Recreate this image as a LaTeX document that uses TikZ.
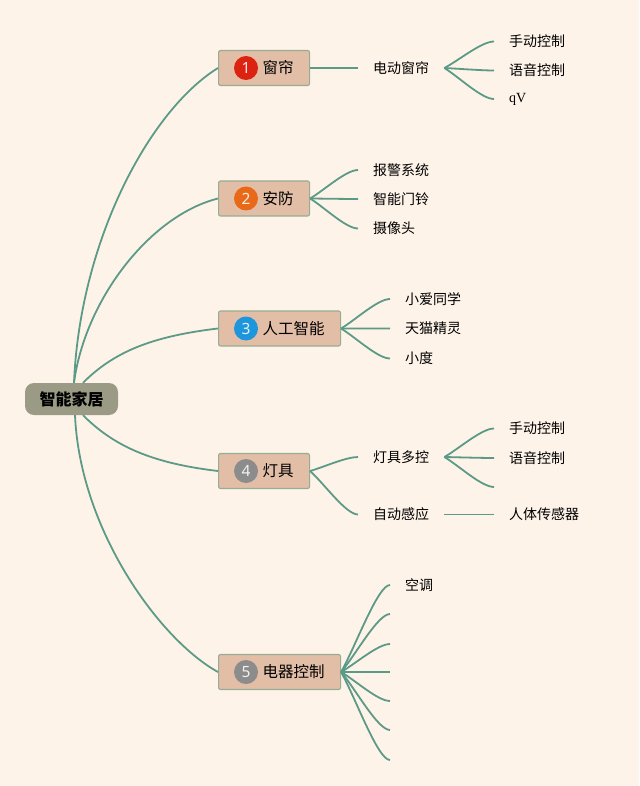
\documentclass[tikz,border=0pt]{standalone}
\usepackage{fontspec}
\setmainfont{Noto Sans CJK SC}
\newfontfamily\numfont{Noto Sans}
\newfontfamily\latinserif{Liberation Serif}
\usetikzlibrary{calc}

\definecolor{bgcream}{HTML}{FEF3E9}
\definecolor{rootfill}{HTML}{9B9A84}
\definecolor{boxfill}{HTML}{E2BEA6}
\definecolor{boxline}{HTML}{97AC94}
\definecolor{linegreen}{HTML}{5C9A88}
\definecolor{dotred}{HTML}{DC2211}
\definecolor{dotorange}{HTML}{E86A18}
\definecolor{dotblue}{HTML}{1E96DD}
\definecolor{dotgray}{HTML}{8C8C8C}

\tikzset{
    rootbox/.style={fill=rootfill, rounded corners=9pt, minimum width=93pt,
        minimum height=32pt, inner sep=0pt, font=\fontsize{16}{16}\selectfont\bfseries},
    mainbox/.style={draw=boxline, line width=1.1pt, fill=boxfill, rounded corners=2pt,
        minimum height=35pt, inner xsep=16pt, inner ysep=0pt, anchor=west,
        font=\fontsize{15.5}{16}\selectfont},
    numdot/.style={circle, fill=#1, minimum size=24pt, inner sep=0pt,
        text=white!88!#1, font=\numfont\fontsize{15.5}{15.5}\selectfont},
    leaf/.style={anchor=west, inner xsep=15pt, inner ysep=2pt,
        font=\fontsize{14}{14}\selectfont},
    branch/.style={draw=linegreen, line width=1.8pt},
    fanout/.style={to path={let \p1=(\tikztostart), \p2=(\tikztotarget) in
        .. controls ($(\p1)!0.3!(\p2)$) and ({0.25*\x1+0.75*\x2},\y2) .. (\tikztotarget)}},
}

% name, y, number, colour, label
\newcommand{\topicbox}[5]{
    \node[mainbox] (#1) at (218, #2) {\hspace{28pt}#5};
    \node[numdot=#4] (#1-num) at ([xshift=28pt]#1.west) {#3};
}

\begin{document}
\begin{tikzpicture}[x=1pt, y=-1pt]
    \fill[bgcream] (0,0) rectangle (639,786);
    \useasboundingbox (0,0) rectangle (639,786);

    \node[rootbox] (home) at (71.5,399) {智能家居};

    \topicbox{curtain}{68}{1}{dotred}{窗帘}
    \topicbox{security}{198.5}{2}{dotorange}{安防}
    \topicbox{ai}{328.5}{3}{dotblue}{人工智能}
    \topicbox{lamp}{471}{4}{dotgray}{灯具}
    \topicbox{appliance}{672}{5}{dotgray}{电器控制}

    \draw[branch] ([xshift=2.5pt]home.north) .. controls +(6,-143) and +(-68,42) .. (curtain.west);
    \draw[branch] ([xshift=2.5pt]home.north) .. controls +(11,-83) and +(-68,17) .. (security.west);
    \draw[branch] ([xshift=11.5pt]home.north) .. controls +(30,-30) and +(-68,8) .. (ai.west);
    \draw[branch] ([xshift=11.5pt]home.south) .. controls +(30,30) and +(-68,-8) .. (lamp.west);
    \draw[branch] ([xshift=3.5pt]home.south) .. controls +(5,115) and +(-58,-32) .. (appliance.west);

    % curtain
    \node[leaf] (curtain-1) at (358,68) {电动窗帘};
    \node[leaf] (curtain-1-1) at (494,41.5) {手动控制};
    \node[leaf] (curtain-1-2) at (494,70.5) {语音控制};
    \node[leaf, font=\latinserif\fontsize{14}{14}\selectfont] (curtain-1-3) at (494,99) {qV};
    \draw[branch] (curtain.east) -- (curtain-1.west);
    \foreach \t in {curtain-1-1, curtain-1-2, curtain-1-3}
        \draw[branch] (curtain-1.east) to[fanout] (\t.west);

    % security
    \node[leaf] (security-1) at (358,170) {报警系统};
    \node[leaf] (security-2) at (358,199) {智能门铃};
    \node[leaf] (security-3) at (358,228.5) {摄像头};
    \foreach \t in {security-1, security-2, security-3}
        \draw[branch] (security.east) to[fanout] (\t.west);

    % ai
    \node[leaf] (ai-1) at (390,299) {小爱同学};
    \node[leaf] (ai-2) at (390,328.5) {天猫精灵};
    \node[leaf] (ai-3) at (390,358.5) {小度};
    \foreach \t in {ai-1, ai-2, ai-3}
        \draw[branch] (ai.east) to[fanout] (\t.west);

    % lamp
    \node[leaf] (lamp-1) at (358,457) {灯具多控};
    \node[leaf] (lamp-2) at (358,514.5) {自动感应};
    \node[leaf] (lamp-1-1) at (494,428.5) {手动控制};
    \node[leaf] (lamp-1-2) at (494,458) {语音控制};
    \coordinate (lamp-1-3) at (494,487);
    \node[leaf] (lamp-2-1) at (494,514.5) {人体传感器};
    \foreach \t in {lamp-1, lamp-2}
        \draw[branch] (lamp.east) to[fanout] (\t.west);
    \foreach \t in {lamp-1-1, lamp-1-2}
        \draw[branch] (lamp-1.east) to[fanout] (\t.west);
    \draw[branch] (lamp-1.east) to[fanout] (lamp-1-3);
    \draw[branch] (lamp-2.east) -- (lamp-2-1.west);

    % appliance
    \node[leaf] (appliance-1) at (390,585) {空调};
    \foreach \y[count=\i from 2] in {614, 644, 672, 701, 730, 760}
        \coordinate (appliance-\i) at (390,\y);
    \draw[branch] (appliance.east) to[fanout] (appliance-1.west);
    \foreach \i in {2,...,7}
        \draw[branch] (appliance.east) to[fanout] (appliance-\i);
\end{tikzpicture}
\end{document}
